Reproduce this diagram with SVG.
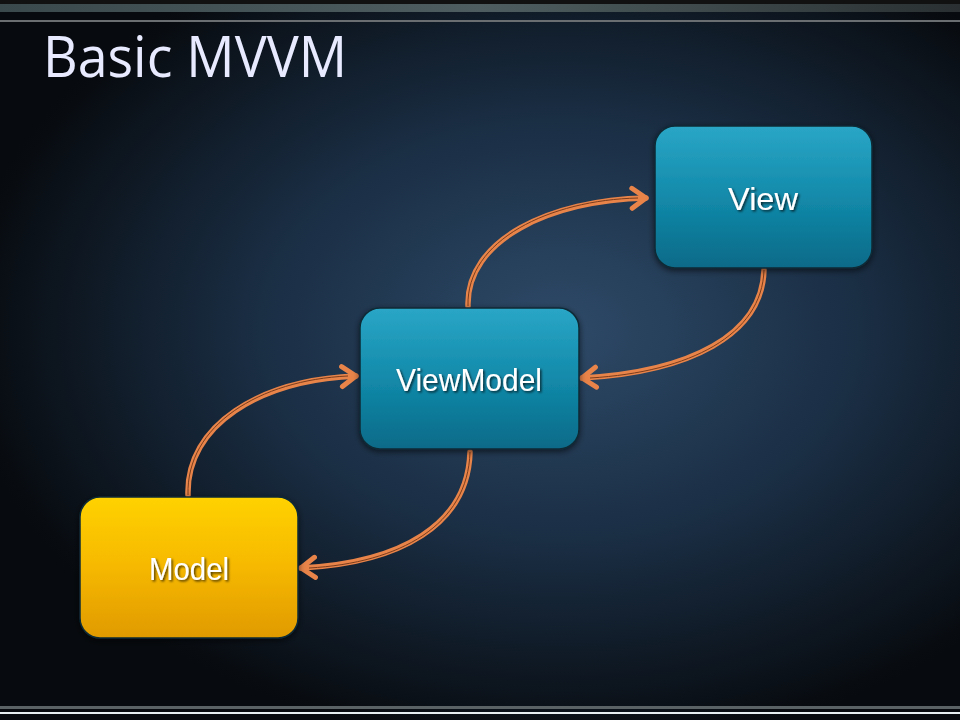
<svg xmlns="http://www.w3.org/2000/svg" width="960" height="720" viewBox="0 0 960 720">
<defs>
<radialGradient id="bg" cx="560" cy="330" r="600" gradientUnits="userSpaceOnUse" gradientTransform="translate(560 330) scale(1 0.7) translate(-560 -330)">
<stop offset="0" stop-color="#2e4a68"/>
<stop offset="0.5" stop-color="#1a2e44"/>
<stop offset="1" stop-color="#070a0e"/>
</radialGradient>
<linearGradient id="topband" x1="0" y1="0" x2="1" y2="0">
<stop offset="0" stop-color="#3a4a4c"/>
<stop offset="0.5" stop-color="#4e5e60"/>
<stop offset="1" stop-color="#2a3032"/>
</linearGradient>
<linearGradient id="teal" x1="0" y1="0" x2="0" y2="1">
<stop offset="0" stop-color="#2aa6c6"/>
<stop offset="0.5" stop-color="#138aaa"/>
<stop offset="1" stop-color="#086a88"/>
</linearGradient>
<linearGradient id="gold" x1="0" y1="0" x2="0" y2="1">
<stop offset="0" stop-color="#ffd200"/>
<stop offset="0.5" stop-color="#f6b800"/>
<stop offset="1" stop-color="#e09a00"/>
</linearGradient>
<filter id="sh" x="-20%" y="-20%" width="140%" height="140%">
<feDropShadow dx="0" dy="2" stdDeviation="3" flood-color="#000" flood-opacity="0.6"/>
</filter>
<filter id="tsh" x="-10%" y="-20%" width="120%" height="150%">
<feDropShadow dx="1.5" dy="1.5" stdDeviation="0.8" flood-color="#000" flood-opacity="0.7"/>
</filter>
<marker id="arr" viewBox="0 0 20 26" refX="17" refY="13" markerWidth="20" markerHeight="26" markerUnits="userSpaceOnUse" orient="auto">
<path d="M3,3 L17,13 L3,23" fill="none" stroke="#e8844a" stroke-width="5" stroke-linecap="round" stroke-linejoin="round"/>
</marker>
<style>
.box{stroke:#0d2a36;stroke-width:1.5;filter:url(#sh)}
.lbl{font-family:"Liberation Sans",Arial,sans-serif;font-size:32px;fill:#ffffff;text-anchor:middle;filter:url(#tsh)}
.conn{fill:none;stroke:#e8844a;stroke-width:5.5;stroke-linecap:round}
.core{fill:none;stroke:#7a3c1c;stroke-width:1}
</style>
</defs>
<rect width="960" height="720" fill="url(#bg)"/>
<rect x="0" y="0" width="960" height="4" fill="#111"/>
<rect x="0" y="4" width="960" height="8" fill="url(#topband)"/>
<rect x="0" y="20" width="960" height="2" fill="#6a6e70"/>
<rect x="0" y="706" width="960" height="3" fill="#5a6266"/>
<rect x="0" y="712" width="960" height="2" fill="#e6eef2"/>
<text x="43" y="77" font-family="'Open Sans','Noto Sans',sans-serif" font-size="57" fill="#e8ebff" textLength="304" lengthAdjust="spacingAndGlyphs">Basic MVVM</text>

<g id="connectors">
<path class="conn" d="M468,306 C466,240 550,200 646,198" marker-end="url(#arr)"/>
<path class="core" d="M468,306 C466,240 550,200 638,198"/>
<path class="conn" d="M764,270 C762,335 690,372 582,378" marker-end="url(#arr)"/>
<path class="core" d="M764,270 C762,335 690,372 590,378"/>
<path class="conn" d="M188,495 C186,425 260,380 356,376" marker-end="url(#arr)"/>
<path class="core" d="M188,495 C186,425 260,380 348,376"/>
<path class="conn" d="M470,452 C468,525 400,563 301,568" marker-end="url(#arr)"/>
<path class="core" d="M470,452 C468,525 400,563 309,568"/>
</g>

<g id="view">
<rect class="box" x="655" y="126" width="217" height="142" rx="20" fill="url(#teal)"/>
<text class="lbl" x="763" y="210" textLength="70" lengthAdjust="spacingAndGlyphs">View</text>
</g>
<g id="viewmodel">
<rect class="box" x="360" y="308" width="219" height="141" rx="20" fill="url(#teal)"/>
<text class="lbl" x="469" y="391" textLength="146" lengthAdjust="spacingAndGlyphs">ViewModel</text>
</g>
<g id="model">
<rect class="box" x="80" y="497" width="218" height="141" rx="20" fill="url(#gold)"/>
<text class="lbl" x="189" y="580" textLength="80" lengthAdjust="spacingAndGlyphs">Model</text>
</g>
</svg>
